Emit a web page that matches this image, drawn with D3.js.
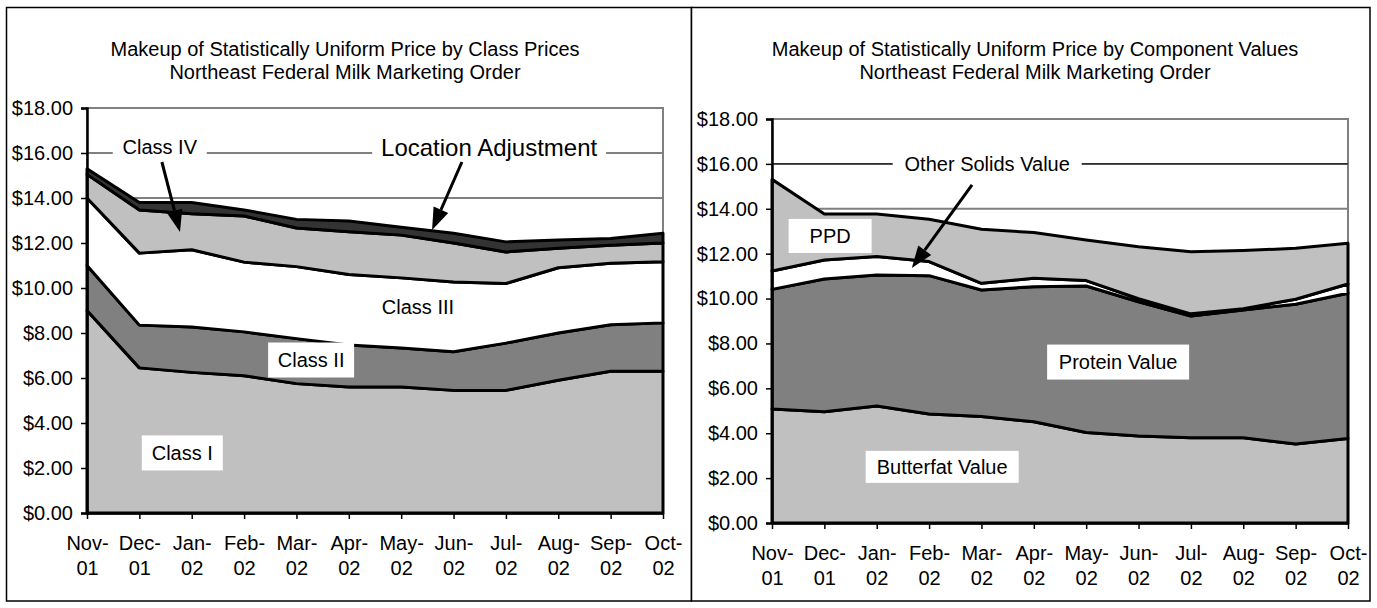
<!DOCTYPE html>
<html><head><meta charset="utf-8">
<script src="https://cdn.jsdelivr.net/npm/d3@7"></script>
<style>
body{margin:0;background:#fff;}
text{font-family:"Liberation Sans",Arial,sans-serif;fill:#000;}
</style></head>
<body>
<svg id="c" width="1377" height="608"></svg>
<script>
// ---- data ----
const months = ["Nov-01","Dec-01","Jan-02","Feb-02","Mar-02","Apr-02","May-02","Jun-02","Jul-02","Aug-02","Sep-02","Oct-02"];
const yTicks = [0,2,4,6,8,10,12,14,16,18];

// Left chart: class price contributions ($/cwt)
const classI   = [9.00,6.45,6.25,6.10,5.75,5.60,5.60,5.45,5.45,5.90,6.30,6.30];
const classII  = [2.00,1.90,2.02,1.95,2.00,1.87,1.73,1.72,2.10,2.10,2.07,2.15];
const classIII = [3.00,3.20,3.43,3.10,3.20,3.13,3.12,3.10,2.65,2.90,2.73,2.72];
const classIV  = [1.05,1.92,1.60,2.05,1.72,1.90,1.90,1.73,1.40,0.87,0.80,0.83];
const locAdj   = [0.25,0.33,0.50,0.27,0.38,0.48,0.35,0.43,0.45,0.36,0.30,0.43];

// Right chart: component values ($/cwt)
const butterfat   = [5.08,4.96,5.21,4.86,4.74,4.51,4.03,3.88,3.80,3.80,3.52,3.77];
const protein     = [5.33,5.91,5.84,6.16,5.64,6.02,6.53,5.98,5.42,5.69,6.23,6.47];
const otherSolids = [0.82,0.85,0.82,0.63,0.30,0.37,0.24,0.13,0.10,0.06,0.22,0.41];
const ppd         = [4.08,2.05,1.90,1.88,2.41,2.04,1.81,2.32,2.77,2.59,2.27,1.81];

const leftSeries = [
  {name:"Class I", values:classI, fill:"#c0c0c0"},
  {name:"Class II", values:classII, fill:"#808080"},
  {name:"Class III", values:classIII, fill:"#ffffff"},
  {name:"Class IV", values:classIV, fill:"#c0c0c0"},
  {name:"Location Adjustment", values:locAdj, fill:"#333333"}
];
const rightSeries = [
  {name:"Butterfat Value", values:butterfat, fill:"#c0c0c0"},
  {name:"Protein Value", values:protein, fill:"#808080"},
  {name:"Other Solids Value", values:otherSolids, fill:"#ffffff"},
  {name:"PPD", values:ppd, fill:"#c0c0c0"}
];

const svg = d3.select("#c");

function drawPanel(cfg){
  const g = svg.append("g");
  g.append("rect").attr("x",cfg.frame[0]).attr("y",cfg.frame[1])
    .attr("width",cfg.frame[2]-cfg.frame[0]).attr("height",cfg.frame[3]-cfg.frame[1])
    .attr("fill","#fff").attr("stroke","#000").attr("stroke-width",1.5);
  cfg.title.forEach((t,i)=>{
    g.append("text").attr("x",cfg.titleX).attr("y",cfg.titleY + i*23)
      .attr("text-anchor","middle").attr("font-size",20).text(t);
  });
  const x = d3.scalePoint().domain(months).range([cfg.x0,cfg.x1]);
  const xi = d3.scaleLinear().domain([0,months.length-1]).range([cfg.x0,cfg.x1]);
  const y = d3.scaleLinear().domain([0,18]).range([cfg.yb,cfg.yt]);

  g.append("g").selectAll("line").data(yTicks.filter(d=>d>0 && d<18)).join("line")
    .attr("x1",cfg.x0).attr("x2",cfg.x1).attr("y1",d=>y(d)).attr("y2",d=>y(d))
    .attr("stroke",cfg.gridColor).attr("stroke-width",cfg.gridWidth);
  g.append("rect").attr("x",cfg.x0).attr("y",y(18)).attr("width",cfg.x1-cfg.x0)
    .attr("height",y(0)-y(18)).attr("fill","none").attr("stroke","#808080").attr("stroke-width",2);

  const rows = months.map((m,i)=>{
    const r = {month:m};
    cfg.series.forEach(s=>{ r[s.name]=s.values[i]; });
    return r;
  });
  const stack = d3.stack().keys(cfg.series.map(s=>s.name))(rows);
  const area = d3.area().x(d=>x(d.data.month)).y0(d=>y(d[0])).y1(d=>y(d[1]));
  g.append("g").selectAll("path").data(stack).join("path")
    .attr("d",area).attr("fill",(d,i)=>cfg.series[i].fill)
    .attr("stroke","#000").attr("stroke-width",3).attr("stroke-linejoin","round");

  (cfg.leaders||[]).forEach(v=>{
    g.append("line").attr("x1",cfg.x0).attr("x2",cfg.x1).attr("y1",y(v)).attr("y2",y(v))
      .attr("stroke","#000").attr("stroke-width",1);
  });

  const ya = g.append("g").attr("transform",`translate(${cfg.x0},0)`)
    .call(d3.axisLeft(y).tickValues(yTicks).tickSize(6).tickPadding(8)
      .tickFormat(d=>"$"+d.toFixed(2)));
  ya.select(".domain").attr("stroke","#000").attr("stroke-width",2.5);
  ya.selectAll(".tick line").attr("stroke","#000").attr("stroke-width",1.5);
  ya.selectAll(".tick text").attr("font-size",20).attr("font-family","Liberation Sans, Arial, sans-serif").attr("fill","#000");

  const xa = g.append("g").attr("transform",`translate(0,${cfg.yb})`)
    .call(d3.axisBottom(x).tickSize(6).tickSizeOuter(0));
  xa.select(".domain").attr("stroke","#000").attr("stroke-width",2.5);
  xa.selectAll(".tick line").attr("stroke","#000").attr("stroke-width",1.5);
  xa.selectAll(".tick text").each(function(d){
    const parts = d.split("-");
    const t = d3.select(this).text(null).attr("font-size",20)
      .attr("font-family","Liberation Sans, Arial, sans-serif").attr("fill","#000").attr("dy",null).attr("y",0);
    t.append("tspan").attr("x",0).attr("y",37).text(parts[0]+"-");
    t.append("tspan").attr("x",0).attr("y",62).text(parts[1]);
  });

  cfg.labels.forEach(l=>{
    const cx = xi(l.xi), cy = y(l.v);
    if(l.box){
      g.append("rect").attr("x",cx-l.box[0]/2).attr("y",cy-l.box[1]/2)
        .attr("width",l.box[0]).attr("height",l.box[1]).attr("fill","#fff");
    }
    g.append("text").attr("x",cx).attr("y",cy).attr("dy","0.35em")
      .attr("text-anchor","middle").attr("font-size",l.size||20).text(l.text);
  });
  cfg.arrows.forEach(a=>{
    const x1 = xi(a.from[0]), y1 = y(a.from[1]), x2 = xi(a.to[0]), y2 = y(a.to[1]);
    const ang = Math.atan2(y2-y1,x2-x1), L = 22, W = 8;
    const bx = x2 - L*Math.cos(ang), by = y2 - L*Math.sin(ang);
    g.append("line").attr("x1",x1).attr("y1",y1).attr("x2",bx).attr("y2",by)
      .attr("stroke","#000").attr("stroke-width",3);
    const px = -Math.sin(ang)*W, py = Math.cos(ang)*W;
    g.append("path").attr("d",`M${x2},${y2}L${bx+px},${by+py}L${bx-px},${by-py}Z`).attr("fill","#000");
  });
}

drawPanel({
  frame:[6.5,7.5,691.5,601],
  title:["Makeup of Statistically Uniform Price by Class Prices","Northeast Federal Milk Marketing Order"],
  titleX:345, titleY:56,
  x0:87, x1:663, yt:108, yb:513,
  gridColor:"#000", gridWidth:1,
  series:leftSeries,
  labels:[
    {text:"Class IV", xi:1.39, v:16.25, box:[94,32]},
    {text:"Location Adjustment", xi:7.68, v:16.25, box:[234,34], size:24},
    {text:"Class III", xi:6.32, v:9.16},
    {text:"Class II", xi:4.28, v:6.8, box:[86,35]},
    {text:"Class I", xi:1.82, v:2.67, box:[81,35]}
  ],
  arrows:[
    {from:[1.43,15.6], to:[1.776,12.49]},
    {from:[7.16,15.6], to:[6.59,12.58]}
  ]
});

drawPanel({
  frame:[691.5,7.5,1370,601],
  title:["Makeup of Statistically Uniform Price by Component Values","Northeast Federal Milk Marketing Order"],
  titleX:1035, titleY:56,
  x0:772, x1:1348, yt:119, yb:523,
  gridColor:"#808080", gridWidth:2,
  series:rightSeries,
  leaders:[16],
  labels:[
    {text:"Other Solids Value", xi:4.11, v:16.0, box:[189,30]},
    {text:"PPD", xi:1.11, v:12.79, box:[83,34]},
    {text:"Protein Value", xi:6.61, v:7.17, box:[142,35]},
    {text:"Butterfat Value", xi:3.25, v:2.5, box:[153,32]}
  ],
  arrows:[
    {from:[3.82,15.06], to:[2.67,11.36]}
  ]
});
</script>
</body></html>
